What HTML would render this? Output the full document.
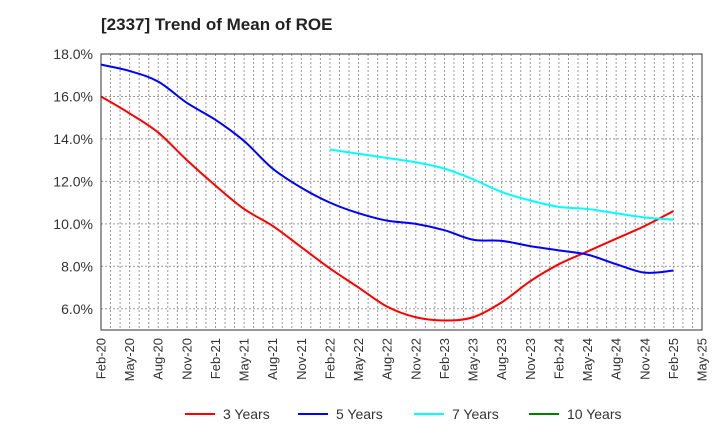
<!DOCTYPE html>
<html><head><meta charset="utf-8"><style>
body{margin:0;background:#fff}
svg{font-family:"Liberation Sans",sans-serif}
</style></head><body>
<svg id="chart" width="720" height="440">
<text x="101" y="30" font-size="17" font-weight="bold" fill="#222">[2337]  Trend of Mean of ROE</text>
<g id="grid"></g>
<g id="series"></g>
<rect x="101" y="54" width="601" height="276" fill="none" stroke="#333" stroke-width="1"/>
<g id="axes"></g>
<g id="legend"></g>
</svg>
<script>
const xLabels=["Feb-20","May-20","Aug-20","Nov-20","Feb-21","May-21","Aug-21","Nov-21","Feb-22","May-22","Aug-22","Nov-22","Feb-23","May-23","Aug-23","Nov-23","Feb-24","May-24","Aug-24","Nov-24","Feb-25","May-25"];
const yTicks=[6,8,10,12,14,16,18];
const seriesNames=["3 Years","5 Years","7 Years","10 Years"];
const seriesColors=["#ff0000","#0000ff","#00ffff","#008000"];
const s3=[16.0,15.2,14.3,13.0,11.8,10.7,9.9,8.9,7.9,7.0,6.1,5.6,5.45,5.6,6.3,7.3,8.1,8.7,9.3,9.9,10.6];
const s5=[17.5,17.2,16.7,15.7,14.9,13.9,12.6,11.7,11.0,10.5,10.15,10.0,9.7,9.25,9.2,8.95,8.75,8.55,8.1,7.7,7.8];
const s7=[null,null,null,null,null,null,null,null,13.5,13.3,13.1,12.9,12.6,12.1,11.5,11.1,10.8,10.7,10.5,10.3,10.2];
const s10=[];
const NS="http://www.w3.org/2000/svg";
const X0=101,X1=702,Y0=330,Y1=54,ymin=5,ymax=18,months=63;
const xq=i=>X0+i*3*(X1-X0)/months;
const xm=m=>X0+m*(X1-X0)/months;
const y=v=>Y0-(v-ymin)*(Y0-Y1)/(ymax-ymin);
function mk(t,a,p){const e=document.createElementNS(NS,t);for(const k in a)e.setAttribute(k,a[k]);p.appendChild(e);return e;}
const grid=document.getElementById('grid');
for(let m=1;m<months;m++){
 const l=mk('line',{x1:xm(m),x2:xm(m),y1:Y1,y2:Y0,stroke:'#999','stroke-dasharray':'2,2','stroke-width':1},grid);
 
 
}
const axes=document.getElementById('axes');
yTicks.forEach(v=>{
 const l=mk('line',{x1:X0,x2:X1,y1:y(v),y2:y(v),stroke:'#999','stroke-dasharray':'2,2'},grid);
 
 
 const t=mk('text',{x:X0-8,y:y(v)+5,'text-anchor':'end','font-size':14,fill:'#333'},axes);
 t.textContent=v.toFixed(1)+'%';
 
 
});
xLabels.forEach((s,i)=>{
 const t=mk('text',{x:0,y:0,'text-anchor':'end','font-size':13,fill:'#333',transform:`translate(${xq(i)+4.5},338) rotate(-90)`},axes);
 t.textContent=s;
 
 
});
function path(arr){
 const pts=[];arr.forEach((v,i)=>{if(v!=null)pts.push([xq(i),y(v)]);});
 if(pts.length<2)return '';
 let d=`M${pts[0][0]},${pts[0][1]}`;
 for(let i=0;i<pts.length-1;i++){
  const p0=pts[Math.max(0,i-1)],p1=pts[i],p2=pts[i+1],p3=pts[Math.min(pts.length-1,i+2)];
  const c1=[p1[0]+(p2[0]-p0[0])/6,p1[1]+(p2[1]-p0[1])/6],c2=[p2[0]-(p3[0]-p1[0])/6,p2[1]-(p3[1]-p1[1])/6];
  d+=` C${c1[0]},${c1[1]} ${c2[0]},${c2[1]} ${p2[0]},${p2[1]}`;
 }
 return d;
}
const sg=document.getElementById('series');
[s3,s5,s7,s10].forEach((arr,k)=>{
 const d=path(arr);if(!d)return;
 const p=mk('path',{d:d,fill:'none',stroke:seriesColors[k],'stroke-width':2},sg);
 
 
});
const lg=document.getElementById('legend');
const lx=[185,298,414,529];
seriesNames.forEach((n,k)=>{
 const g=mk('g',{},lg);
 
 
 mk('line',{x1:lx[k],x2:lx[k]+30,y1:414,y2:414,stroke:seriesColors[k],'stroke-width':2},g);
 const t=mk('text',{x:lx[k]+38,y:419,'font-size':14,fill:'#333'},g);
 t.textContent=n;
});
</script>
</body></html>
